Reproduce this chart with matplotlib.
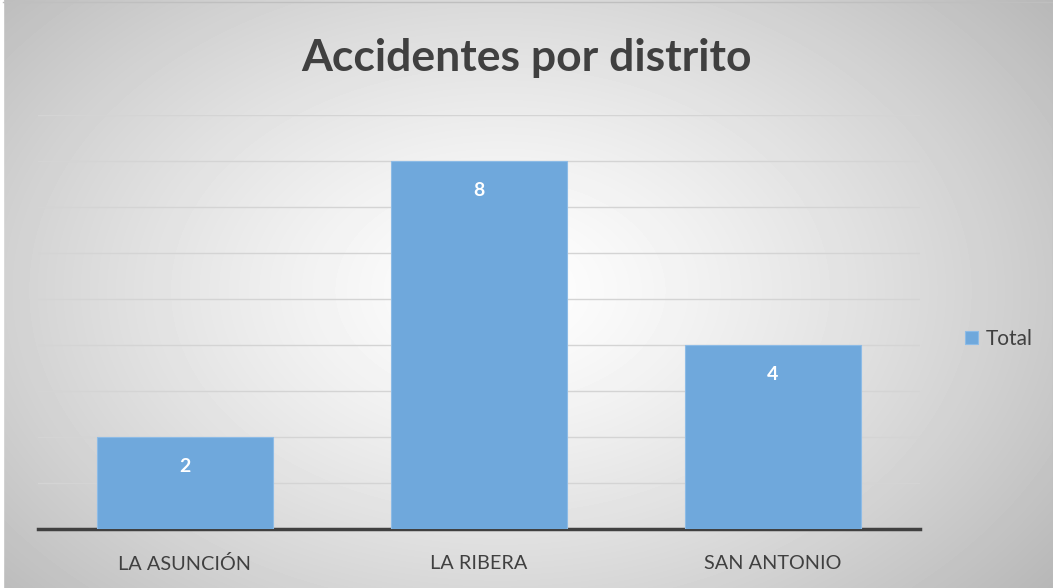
import matplotlib
matplotlib.use("Agg")
import matplotlib.pyplot as plt
import numpy as np

distritos = ["LA ASUNCIÓN", "LA RIBERA", "SAN ANTONIO"]
total = [2, 8, 4]

plt.rcParams['font.family'] = ['Lato', 'DejaVu Sans']

W, H = 1053, 588
fig = plt.figure(figsize=(W / 100, H / 100), dpi=100)

# radial gradient background
bg = fig.add_axes([0, 0, 1, 1])
yy, xx = np.mgrid[0:H, 0:W]
r = np.sqrt(((xx - 500) / 620.0) ** 2 + ((yy - 290) / 420.0) ** 2)
shade = 1.0 - 0.24 * np.clip(r, 0, 1.2) ** 1.3
bg.imshow(shade, cmap='gray', vmin=0, vmax=1, extent=[0, W, H, 0], aspect='auto')
bg.set_xlim(0, W)
bg.set_ylim(H, 0)
bg.axis('off')
# thin border
bg.plot([3, W, W], [2, 2, H], color='#bfbfbf', lw=1)
bg.axvspan(0, 3, color='white')

ax = fig.add_axes([38 / W, 1 - 529 / H, 882 / W, 414 / H])
ax.patch.set_alpha(0)
x = np.arange(len(distritos))
bars = ax.bar(x, total, width=0.6, color='#6fa8dc', edgecolor='#8dbbe6', linewidth=0.8, zorder=3, label='Total')
ax.set_xlim(-0.5, 2.5)
ax.set_ylim(0, 9)
ax.set_yticks(np.arange(0, 10))
ax.yaxis.grid(True, color='#d4d4d4', lw=1, zorder=0)
ax.tick_params(axis='y', length=0, labelleft=False)
ax.tick_params(axis='x', length=0, pad=19, labelsize=14.3, labelcolor='#404040')
ax.set_xticks(x)
ax.set_xticklabels(distritos)
for s in ['top', 'right', 'left']:
    ax.spines[s].set_visible(False)
ax.spines['bottom'].set_color('#404040')
ax.spines['bottom'].set_linewidth(2.5)

for b, v in zip(bars, total):
    ax.text(b.get_x() + b.get_width() / 2, v - 0.65, str(v), ha='center', va='center',
            color='white', fontsize=14, fontweight='bold', zorder=4)

fig.text(0.5, 1 - 58 / H, "Accidentes por distrito", ha='center', va='center',
         fontsize=32, fontweight='bold', color='#404040')

leg = ax.legend(loc='center left', bbox_to_anchor=(1.03, 0.46), frameon=False,
                fontsize=15, handlelength=0.6, handleheight=0.6, handletextpad=0.4,
                labelcolor='#404040')

fig.savefig("out.png", dpi=100)
